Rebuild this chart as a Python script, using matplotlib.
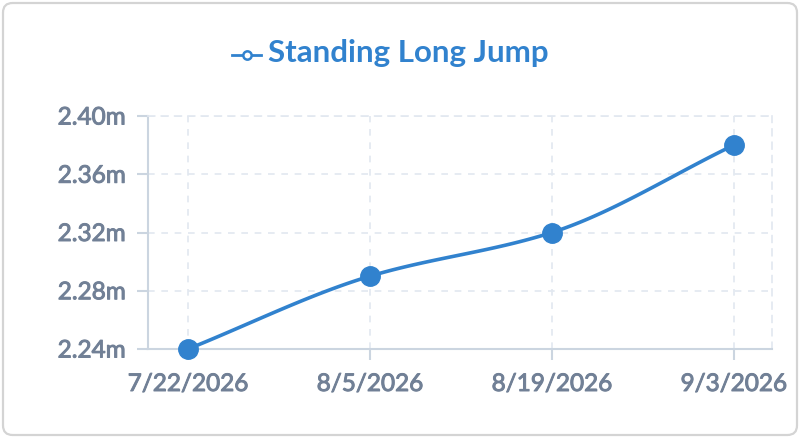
import numpy as np
import matplotlib.pyplot as plt
import matplotlib.patheffects as pe
from matplotlib.patches import FancyBboxPatch
from matplotlib.lines import Line2D


# Dane
dates = ['7/22/2026', '8/5/2026', '8/19/2026', '9/3/2026']
jump = [2.24, 2.29, 2.32, 2.38]
yticks = [2.24, 2.28, 2.32, 2.36, 2.40]
title = 'Standing Long Jump'

blue = '#3182ce'
grey_txt = '#718096'
axis_col = '#cbd5e0'
grid_col = '#e2e8f0'


def monotone(x, y, n=40):
    # gladka krzywa (monotone cubic) tylko do rysowania linii
    x = np.asarray(x, float)
    y = np.asarray(y, float)
    h = np.diff(x)
    d = np.diff(y) / h
    m = np.zeros_like(y)
    m[0], m[-1] = d[0], d[-1]
    for i in range(1, len(y) - 1):
        if d[i - 1] * d[i] > 0:
            m[i] = 3 * (h[i - 1] + h[i]) / ((2 * h[i] + h[i - 1]) / d[i - 1] + (h[i] + 2 * h[i - 1]) / d[i])
    xs, ys = [], []
    for i in range(len(h)):
        t = np.linspace(0, 1, n)
        h00 = 2 * t**3 - 3 * t**2 + 1
        h10 = t**3 - 2 * t**2 + t
        h01 = -2 * t**3 + 3 * t**2
        h11 = t**3 - t**2
        xs.append(x[i] + t * h[i])
        ys.append(h00 * y[i] + h10 * h[i] * m[i] + h01 * y[i + 1] + h11 * h[i] * m[i + 1])
    return np.concatenate(xs), np.concatenate(ys)


plt.rcParams['font.family'] = ['Lato', 'DejaVu Sans']

fig = plt.figure(figsize=(8, 4.38), dpi=100)
fig.patch.set_facecolor('white')

# ramka karty
card = FancyBboxPatch((3 / 800, 3 / 438), 794 / 800, 432 / 438,
                      boxstyle='round,pad=0,rounding_size=0.012',
                      transform=fig.transFigure, facecolor='white',
                      edgecolor='#d4d4d4', linewidth=1.6, mutation_aspect=800 / 438,
                      zorder=-10)
fig.patches.append(card)

ax = fig.add_axes([148 / 800, 1 - 349 / 438, (772 - 148) / 800, (349 - 116) / 438])
ax.set_facecolor('none')
ax.set_zorder(5)

x = np.arange(len(dates))
xs, ys = monotone(x, jump)
ax.plot(xs, ys, color=blue, lw=2.6, solid_capstyle='round', zorder=3)
ax.plot(x, jump, 'o', color=blue, ms=14, zorder=4, clip_on=False)

ax.set_xlim(-0.22, 3.21)
ax.set_ylim(2.24, 2.40)
ax.set_xticks(x)
ax.set_xticklabels(dates)
ax.set_yticks(yticks)
ax.set_yticklabels([f'{v:.2f}m' for v in yticks])

ax.grid(True, color=grid_col, linestyle=(0, (4, 4)), lw=1.2, zorder=0)
for s in ['top', 'right']:
    ax.spines[s].set_visible(True)
    ax.spines[s].set_color(grid_col)
    ax.spines[s].set_linestyle((0, (4, 4)))
    ax.spines[s].set_linewidth(1.2)
for s in ['left', 'bottom']:
    ax.spines[s].set_color(axis_col)
    ax.spines[s].set_linewidth(1.5)

ax.tick_params(axis='both', colors=axis_col, length=8, width=1.5,
               labelcolor=grey_txt, labelsize=17.5, pad=8)
ax.tick_params(axis='x', pad=10)
# etykiety troche grubsze (semibold)
for lab in ax.get_xticklabels() + ax.get_yticklabels():
    lab.set_path_effects([pe.withStroke(linewidth=0.7, foreground=grey_txt)])

# tytul z legenda
fig.text(408 / 800, 1 - 53 / 438, title, ha='center', va='center',
         fontsize=22.5, fontweight='bold', color=blue)
fig.add_artist(Line2D([232 / 800, 261 / 800], [1 - 55 / 438] * 2, transform=fig.transFigure,
                      color=blue, lw=2.0))
fig.add_artist(Line2D([246.5 / 800], [1 - 55 / 438], transform=fig.transFigure,
                      marker='o', ms=6, mfc='white', mec=blue, mew=1.8))

fig.savefig('out.png', dpi=100, facecolor='white')
